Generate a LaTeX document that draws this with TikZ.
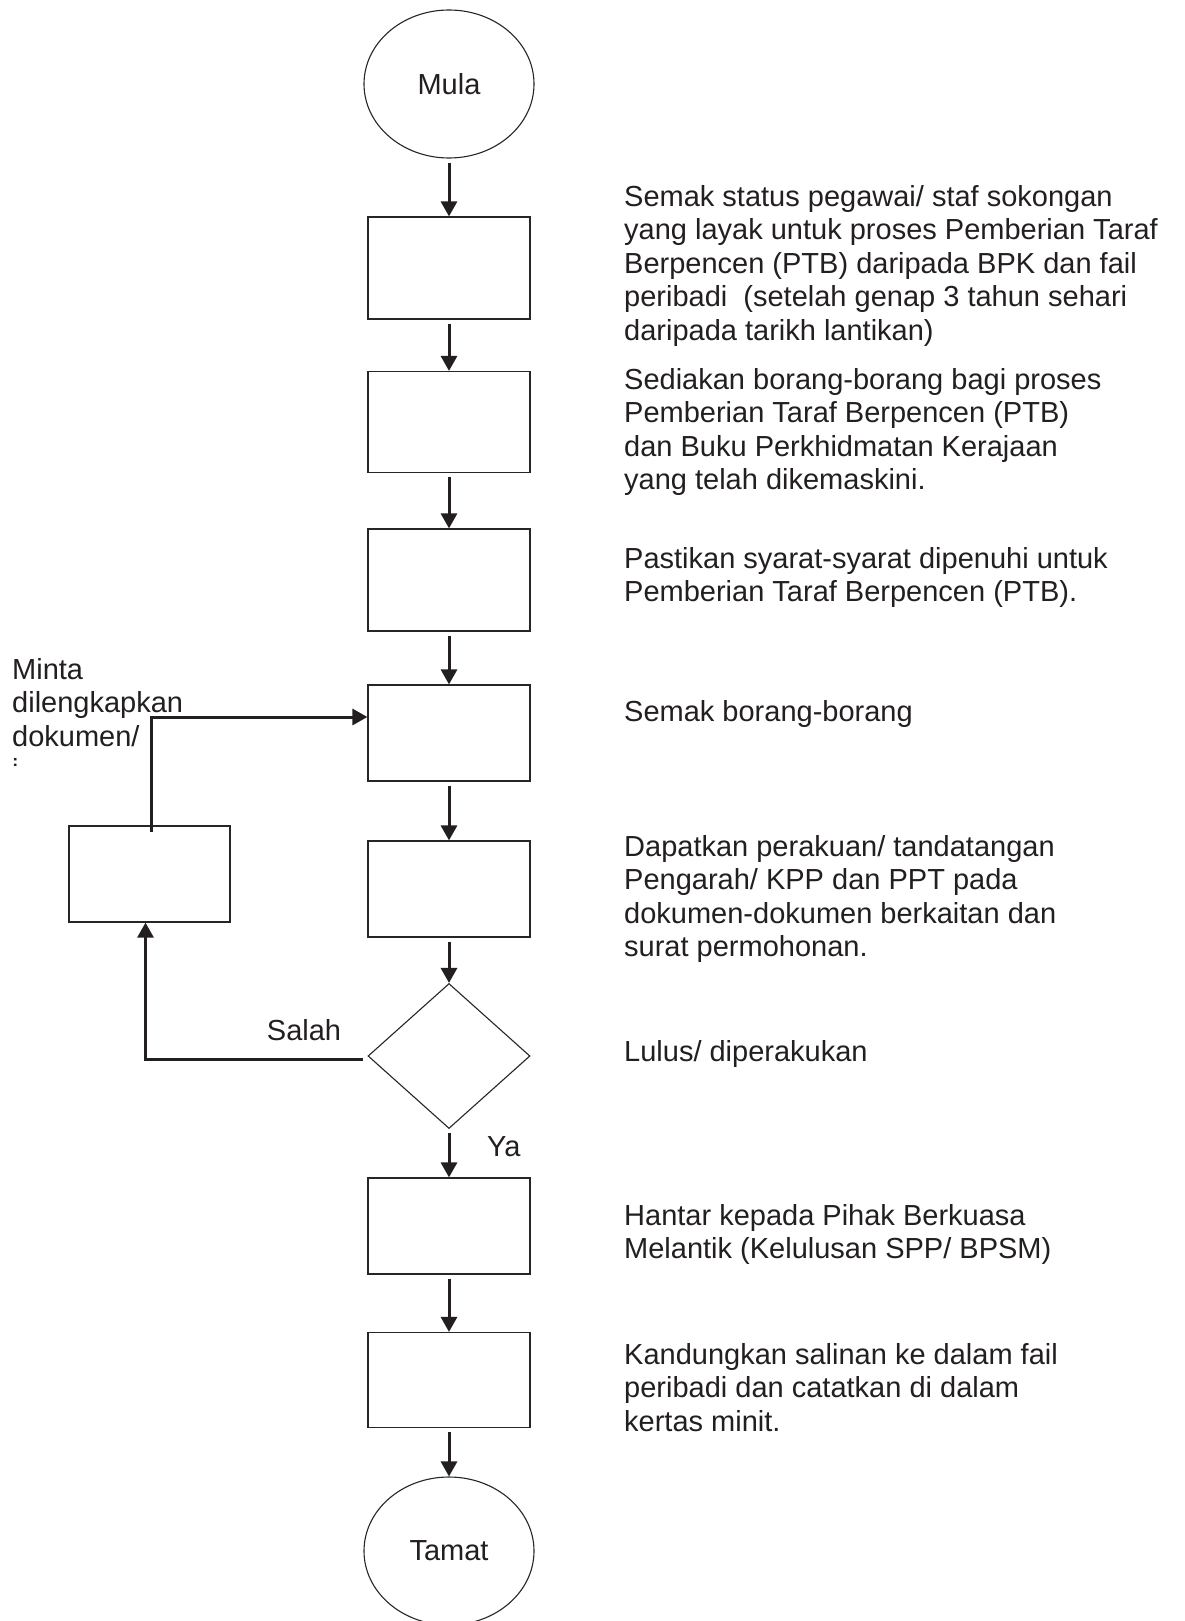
\documentclass[tikz,border=0pt]{standalone}
\usepackage{fontspec}
\setmainfont{Liberation Sans}
\usetikzlibrary{shapes.geometric,arrows.meta,calc}
\definecolor{ink}{HTML}{231F20}
\begin{document}
\begin{tikzpicture}[x=1pt,y=-1pt,
  every node/.style={font=\fontsize{29}{33.5}\selectfont, text=ink},
  proc/.style={draw=black!85, line width=1.2pt, minimum width=162pt, inner sep=0pt},
  term/.style={ellipse, draw=black!85, line width=1.1pt, minimum width=170pt, minimum height=148pt, inner sep=0pt},
  decide/.style={diamond, draw=black!85, line width=1.1pt, aspect=1.117, minimum width=162pt, minimum height=145pt, inner sep=0pt},
  desc/.style={anchor=north west, align=left, inner sep=0pt},
  arr/.style={draw=ink, line width=3pt, -{Triangle[width=16pt,length=15pt]}, shorten <=4pt}]
\useasboundingbox (0,0) rectangle (1184,1621);
\fill[white] (0,0) rectangle (1184,1621);

% flow shapes
\node[term] (mula) at (449,84) {Mula};
\node[proc, minimum height=102pt] (b1) at (449,268) {};
\node[proc, minimum height=101pt] (b2) at (449,422) {};
\node[proc, minimum height=102pt] (b3) at (449,580) {};
\node[proc, minimum height=96pt] (b4) at (449,733) {};
\node[proc, minimum height=96pt] (b5) at (449,889) {};
\node[decide] (dia) at (449,1056) {};
\node[proc, minimum height=96pt] (b6) at (449,1226) {};
\node[proc, minimum height=95pt] (b7) at (449,1380) {};
\node[term] (tamat) at (449,1551) {Tamat};
\node[proc, minimum width=161pt, minimum height=96pt] (lb) at (149.5,874) {};

% connectors
\draw[arr] (mula.south) -- (b1.north);
\draw[arr] (b1.south) -- (b2.north);
\draw[arr] (b2.south) -- (b3.north);
\draw[arr] (b3.south) -- (b4.north);
\draw[arr] (b4.south) -- (b5.north);
\draw[arr] (b5.south) -- (dia.north);
\draw[arr] (dia.south) -- (b6.north);
\draw[arr] (b6.south) -- (b7.north);
\draw[arr] (b7.south) -- (tamat.north);
\draw[arr] ($(dia.west)+(0,3)$) -| ($(lb.south)+(-4,0)$);
\draw[arr, shorten <=0pt] ($(lb.north)+(1.5,7)$) |- ($(b4.west)+(0,-16)$);

% labels
\node (salah) at (304,1030) {Salah};
\node[anchor=west, inner sep=0pt] (ya) at (487,1147) {Ya};
\begin{scope}
\clip (0,640) rectangle (320,765);
\node[desc] (minta) at (12,658) {Minta\\dilengkapkan\\dokumen/\\i};
\end{scope}

% descriptions
\node[desc] (d1) at (624,185) {Semak status pegawai/ staf sokongan\\yang layak untuk proses Pemberian Taraf\\Berpencen (PTB) daripada BPK dan fail\\peribadi~ (setelah genap 3 tahun sehari\\daripada tarikh lantikan)};
\node[desc] (d2) at (624,368) {Sediakan borang-borang bagi proses\\Pemberian Taraf Berpencen (PTB)\\dan Buku Perkhidmatan Kerajaan\\yang telah dikemaskini.};
\node[desc] (d3) at (624,547) {Pastikan syarat-syarat dipenuhi untuk\\Pemberian Taraf Berpencen (PTB).};
\node[desc] (d4) at (624,700) {Semak borang-borang};
\node[desc] (d5) at (624,835) {Dapatkan perakuan/ tandatangan\\Pengarah/ KPP dan PPT pada\\dokumen-dokumen berkaitan dan\\surat permohonan.};
\node[desc] (d6) at (624,1040) {Lulus/ diperakukan};
\node[desc] (d7) at (624,1204) {Hantar kepada Pihak Berkuasa\\Melantik (Kelulusan SPP/ BPSM)};
\node[desc] (d8) at (624,1343) {Kandungkan salinan ke dalam fail\\peribadi dan catatkan di dalam\\kertas minit.};
\end{tikzpicture}
\end{document}
